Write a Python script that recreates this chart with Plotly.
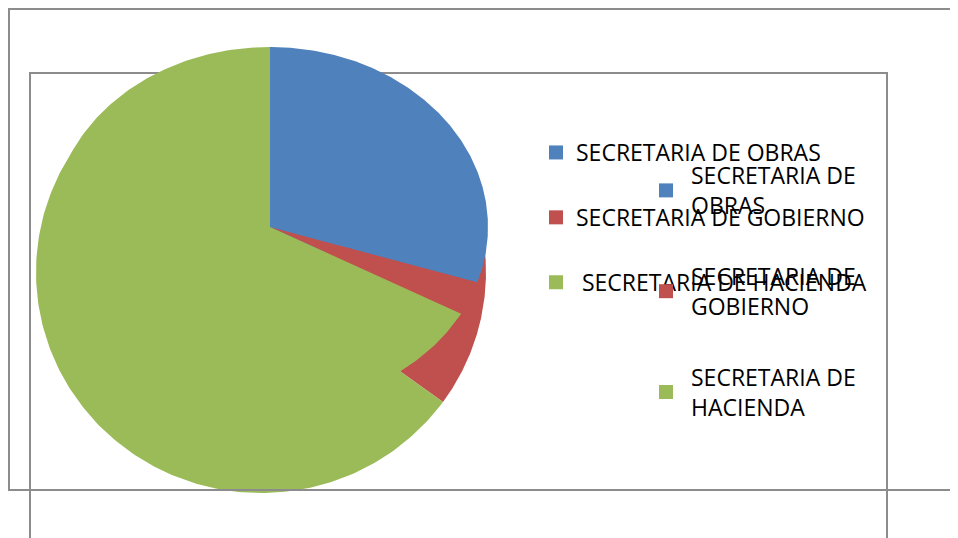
import numpy as np
import plotly.graph_objects as go

# ---- data ----
categories = ["SECRETARIA DE OBRAS", "SECRETARIA DE GOBIERNO", "SECRETARIA DE HACIENDA"]
legend1_labels = ["SECRETARIA DE OBRAS", "SECRETARIA DE GOBIERNO", "\u00a0SECRETARIA DE HACIENDA"]
legend2_labels = ["SECRETARIA DE<br>OBRAS", "SECRETARIA DE<br>GOBIERNO", "SECRETARIA DE<br>HACIENDA"]
values_front = [30, 3, 67]     # elliptical pie drawn on top
values_back = [20, 15, 65]     # circular pie drawn behind
colors = ["#4F81BD", "#C0504D", "#9BBB59"]

# page body has an 8px margin, so the figure is sized to fill the rest of the window
W, H = 950, 530
FONT = "Open Sans"
FS = 23


def sectors(values, n=240):
    total = float(sum(values))
    cum = np.concatenate([[0.0], np.cumsum(values)]) / total
    out = []
    for a, b in zip(cum[:-1], cum[1:]):
        t = np.linspace(np.pi / 2 - 2 * np.pi * a, np.pi / 2 - 2 * np.pi * b, n)
        xs = np.concatenate([[0.0], np.cos(t), [0.0]])
        ys = np.concatenate([[0.0], np.sin(t), [0.0]])
        out.append((xs, ys))
    return out


fig = go.Figure()

# back pie on x/y
for (xs, ys), c, name in zip(sectors(values_back), colors, categories):
    fig.add_trace(go.Scatter(x=xs, y=ys, fill="toself", fillcolor=c, mode="lines",
                             line=dict(width=0, color=c), name=name, showlegend=False,
                             hoverinfo="name", xaxis="x", yaxis="y"))

# front pie (ellipse) on x2/y2
for (xs, ys), c, name in zip(sectors(values_front), colors, categories):
    fig.add_trace(go.Scatter(x=xs, y=ys, fill="toself", fillcolor=c, mode="lines",
                             line=dict(width=0, color=c), name=name, showlegend=False,
                             hoverinfo="name", xaxis="x2", yaxis="y2"))

# legend entries
for i, (lab, c) in enumerate(zip(legend1_labels, colors)):
    fig.add_trace(go.Scatter(x=[None], y=[None], mode="markers", name=lab,
                             marker=dict(symbol="square", size=14, color=c),
                             legend="legend", legendgroup="a%d" % i, xaxis="x", yaxis="y"))
for i, (lab, c) in enumerate(zip(legend2_labels, colors)):
    fig.add_trace(go.Scatter(x=[None], y=[None], mode="markers", name=lab,
                             marker=dict(symbol="square", size=14, color=c),
                             legend="legend2", legendgroup="b%d" % i, xaxis="x", yaxis="y"))

# geometry (pixels inside the figure)
cxB, cyB, rxB, ryB = 253, 264, 225, 221
cxA, cyA, rxA, ryA = 262, 219, 218, 180

ax_common = dict(visible=False, showgrid=False, zeroline=False, fixedrange=True)
fig.update_layout(
    width=W, height=H, autosize=False,
    margin=dict(l=0, r=0, t=0, b=0),
    paper_bgcolor="white", plot_bgcolor="rgba(0,0,0,0)",
    font=dict(family=FONT, size=FS, color="#000000"),
    xaxis=dict(range=[-cxB / rxB, (W - cxB) / rxB], domain=[0, 1], **ax_common),
    yaxis=dict(range=[-(H - cyB) / ryB, cyB / ryB], domain=[0, 1], **ax_common),
    xaxis2=dict(range=[-cxA / rxA, (W - cxA) / rxA], overlaying="x", **ax_common),
    yaxis2=dict(range=[-(H - cyA) / ryA, cyA / ryA], overlaying="y", **ax_common),
    legend=dict(x=528 / W, y=1 - 123 / H, xanchor="left", yanchor="top",
                bgcolor="rgba(0,0,0,0)", borderwidth=0, tracegroupgap=32,
                itemsizing="trace", font=dict(family=FONT, size=FS, color="#000")),
    legend2=dict(x=633 / W, y=1 - 146 / H, xanchor="left", yanchor="top",
                 bgcolor="rgba(0,0,0,0)", borderwidth=0, tracegroupgap=38,
                 itemwidth=40,
                 itemsizing="trace", font=dict(family=FONT, size=FS, color="#000")),
    showlegend=True,
    shapes=[
        # inner frame (behind pies)
        dict(type="rect", xref="paper", yref="paper", x0=22 / W, x1=879 / W,
             y0=-0.05, y1=1 - 65 / H, line=dict(color="#8C8C8C", width=2), layer="below"),
        # outer frame
        dict(type="rect", xref="paper", yref="paper", x0=1 / W, x1=1.05,
             y0=1 - 482 / H, y1=1 - 1 / H, line=dict(color="#8C8C8C", width=2), layer="above"),
    ],
)

fig.write_html("out.html")
